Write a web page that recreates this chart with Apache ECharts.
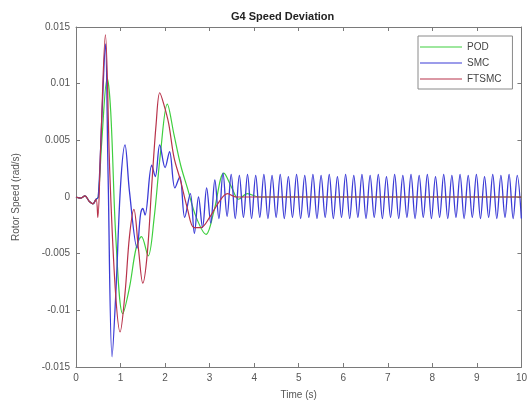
<!DOCTYPE html>
<html>
<head>
<meta charset="utf-8">
<script src="https://cdn.jsdelivr.net/npm/echarts@6/dist/echarts.min.js"></script>
<style>
  html, body { margin: 0; padding: 0; background: #fff; }
  #chart { width: 530px; height: 409px; }
</style>
</head>
<body>
<div id="chart"></div>
<script>
// POD (green)
const podT = [0, 0.1, 0.2, 0.3, 0.38, 0.45, 0.5, 0.58, 0.7, 0.78, 0.9, 1.05, 1.2, 1.35, 1.47, 1.62, 1.75, 1.9, 2.05, 2.2, 2.35, 2.5, 2.7, 2.92, 3.1, 3.32, 3.5, 3.65, 3.85, 4.1, 10]
const podV = [0, -0.0001, 0.0001, -0.0004, -0.0006, -0.0002, 0, 0.005, 0.0105, 0.0075, -0.004, -0.0103, -0.008, -0.0045, -0.0035, -0.0052, -0.002, 0.004, 0.0082, 0.0055, 0.0028, 0.0008, -0.0018, -0.0033, -0.0012, 0.0021, 0.0008, -0.0002, 0.0003, 0, 0]

// SMC (blue)
const smcT = [0, 0.1, 0.2, 0.3, 0.38, 0.45, 0.5, 0.58, 0.66, 0.72, 0.81, 0.9, 1.0, 1.10, 1.2, 1.37, 1.45, 1.5, 1.55, 1.70, 1.78, 1.88, 2.0, 2.1, 2.22, 2.33, 2.44, 2.566, 2.658, 2.750, 2.841, 2.933, 3.025, 3.117, 3.208,
  3.300, 3.392, 3.484, 3.575, 3.667, 3.759, 3.851, 3.942, 4.034, 4.126, 4.218, 4.309, 4.401, 4.493, 4.585, 4.676, 4.768, 4.860, 4.952, 5.043,
  5.135, 5.227, 5.319, 5.410, 5.502, 5.594, 5.686, 5.777, 5.869, 5.961, 6.053, 6.144, 6.236, 6.328, 6.420, 6.511, 6.603, 6.695, 6.787, 6.878,
  6.970, 7.062, 7.154, 7.245, 7.337, 7.429, 7.521, 7.612, 7.704, 7.796, 7.888, 7.979, 8.071, 8.163, 8.255, 8.346, 8.438, 8.530, 8.622, 8.713,
  8.805, 8.897, 8.989, 9.080, 9.172, 9.264, 9.356, 9.447, 9.539, 9.631, 9.723, 9.814, 9.906, 9.998]
const smcV = [0, -0.0001, 0.0001, -0.0004, -0.0006, -0.0002, 0, 0.007, 0.0135, 0.002, -0.0141, -0.008, 0.001, 0.0046, 0.0005, -0.0045, -0.0015, -0.0010, -0.0016, 0.0028, 0.0018, 0.0046, 0.0026, 0.0040, 0.0008, 0.0018, -0.0018, 0.0003, -0.0032, 0.0000, -0.0027, 0.0008, -0.0023, 0.0015, -0.0019,
  0.0021, -0.0017, 0.0020, -0.0019, 0.0019, -0.0018, 0.0020, -0.0019, 0.0019, -0.0018, 0.0020, -0.0019, 0.0019, -0.0018, 0.0020, -0.0019, 0.0018, -0.0018, 0.0020, -0.0019,
  0.0019, -0.0018, 0.0020, -0.0019, 0.0019, -0.0018, 0.0020, -0.0019, 0.0018, -0.0018, 0.0020, -0.0019, 0.0019, -0.0018, 0.0020, -0.0019, 0.0019, -0.0018, 0.0020, -0.0019,
  0.0018, -0.0018, 0.0020, -0.0019, 0.0019, -0.0018, 0.0020, -0.0019, 0.0019, -0.0018, 0.0020, -0.0019, 0.0018, -0.0018, 0.0020, -0.0019, 0.0019, -0.0018, 0.0020, -0.0019,
  0.0019, -0.0018, 0.0020, -0.0019, 0.0018, -0.0018, 0.0020, -0.0019, 0.0019, -0.0018, 0.0020, -0.0019, 0.0019, -0.0019]

// FTSMC (red)
const ftsmcT = [0, 0.1, 0.2, 0.3, 0.38, 0.45, 0.49, 0.55, 0.66, 0.76, 0.88, 0.99, 1.1, 1.2, 1.3, 1.4, 1.5, 1.6, 1.7, 1.8, 1.88, 1.97, 2.08, 2.2, 2.35, 2.5, 2.65, 2.8, 3.0, 3.2, 3.4, 3.6, 10]
const ftsmcV = [0, -0.0001, 0.0001, -0.0004, -0.0006, -0.0002, -0.0018, 0.004, 0.0143, 0.002, -0.008, -0.0119, -0.0085, -0.0035, -0.0011, -0.0045, -0.0076, -0.005, 0.001, 0.0065, 0.0092, 0.0082, 0.0065, 0.0035, 0.0014, -0.0010, -0.0027, -0.0027, -0.0018, -0.0005, 0.0003, 0, 0]

const xTicks = [0, 1, 2, 3, 4, 5, 6, 7, 8, 9, 10]
const yTicks = [-0.015, -0.01, -0.005, 0, 0.005, 0.01, 0.015]

const pair = (t, v) => t.map((x, i) => [x, v[i]])

const chart = echarts.init(document.getElementById('chart'))

const axisLine = { show: true, onZero: false, lineStyle: { color: '#7a7a7a', width: 1 } }
const axisTick = { show: true, inside: true, length: 4, lineStyle: { color: '#7a7a7a' } }
const labelStyle = { color: '#555', fontSize: 10, fontFamily: 'Liberation Sans, Arial, sans-serif' }

chart.setOption({
  backgroundColor: '#fff',
  animation: false,
  title: {
    text: 'G4 Speed Deviation',
    left: 226,
    top: 6,
    textStyle: { fontSize: 11, fontWeight: 'bold', color: '#222', fontFamily: 'Liberation Sans, Arial, sans-serif' }
  },
  legend: {
    orient: 'vertical',
    left: 418,
    top: 36,
    icon: 'rect',
    itemWidth: 42,
    itemHeight: 1.2,
    itemGap: 4,
    padding: [5, 11, 4, 2],
    backgroundColor: '#fff',
    borderColor: '#8a8a8a',
    borderWidth: 1,
    textStyle: { fontSize: 10, color: '#444', lineHeight: 12, fontFamily: 'Liberation Sans, Arial, sans-serif' },
    data: ['POD', 'SMC', 'FTSMC']
  },
  grid: { left: 76, right: 8, top: 27, bottom: 42 },
  xAxis: [{
    type: 'value',
    min: 0, max: 10, interval: 1,
    name: 'Time (s)',
    nameLocation: 'middle',
    nameGap: 23,
    nameTextStyle: labelStyle,
    axisLine: axisLine,
    axisTick: axisTick,
    axisLabel: Object.assign({ margin: 6, formatter: v => xTicks.includes(v) ? String(v) : '' }, labelStyle),
    splitLine: { show: false }
  }, {
    type: 'value',
    position: 'top',
    min: 0, max: 10, interval: 1,
    axisLine: axisLine,
    axisTick: axisTick,
    axisLabel: { show: false },
    splitLine: { show: false }
  }],
  yAxis: [{
    type: 'value',
    min: -0.015, max: 0.015, interval: 0.005,
    name: 'Rotor Speed (rad/s)',
    nameLocation: 'middle',
    nameGap: 55,
    nameTextStyle: labelStyle,
    axisLine: axisLine,
    axisTick: axisTick,
    axisLabel: Object.assign({ margin: 6, formatter: v => {
      const r = +v.toFixed(3)
      return yTicks.includes(r) ? String(r) : ''
    } }, labelStyle),
    splitLine: { show: false }
  }, {
    type: 'value',
    position: 'right',
    min: -0.015, max: 0.015, interval: 0.005,
    axisLine: axisLine,
    axisTick: axisTick,
    axisLabel: { show: false },
    splitLine: { show: false }
  }],
  series: [{
    name: 'POD', type: 'line', symbol: 'none', smooth: 0.35,
    lineStyle: { color: '#3fcf3f', width: 1.2 }, itemStyle: { color: '#3fcf3f' },
    data: pair(podT, podV)
  }, {
    name: 'SMC', type: 'line', symbol: 'none', smooth: 0.35,
    lineStyle: { color: '#3b3bd6', width: 1.3 }, itemStyle: { color: '#3b3bd6' },
    data: pair(smcT, smcV)
  }, {
    name: 'FTSMC', type: 'line', symbol: 'none', smooth: 0.35,
    lineStyle: { color: '#b8324a', width: 1.2 }, itemStyle: { color: '#b8324a' },
    data: pair(ftsmcT, ftsmcV)
  }]
})
</script>
</body>
</html>
